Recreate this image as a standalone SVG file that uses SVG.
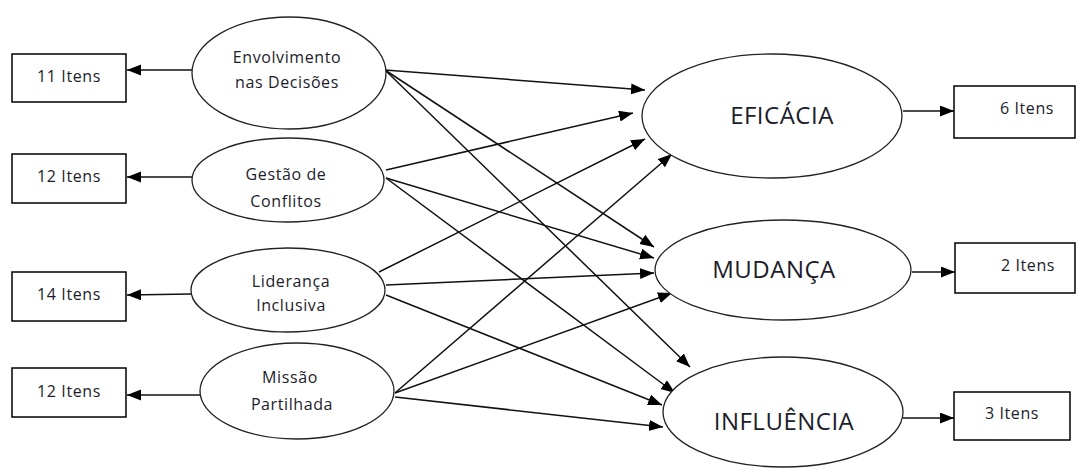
<svg xmlns="http://www.w3.org/2000/svg" width="1083" height="471" viewBox="0 0 1083 471">
  <style>
    .box { fill: #fff; stroke: #000; stroke-width: 1.5; }
    .ell { fill: #fff; stroke: #222; stroke-width: 1.3; }
    .lbl { font-family: "Open Sans", "DejaVu Sans", sans-serif; font-size: 16px; letter-spacing: 0.6px; fill: #1c1c2a; text-anchor: middle; }
    .big { font-family: "Open Sans", "DejaVu Sans", sans-serif; font-size: 24px; letter-spacing: 0.5px; fill: #1c1c2a; text-anchor: middle; }
    .conn { stroke: #111; stroke-width: 1.5; fill: none; marker-end: url(#arrow); }
  </style>
  <defs>
    <marker id="arrow" markerUnits="userSpaceOnUse" markerWidth="15" markerHeight="12" refX="14" refY="5.5" orient="auto">
      <path d="M0,0 L14,5.5 L0,11 Z" fill="#000"/>
    </marker>
  </defs>
  <rect width="1083" height="471" fill="#fff"/>

  <!-- connectors -->
  <g id="connectors">
    <!-- constructs to item boxes (left) -->
    <line class="conn" x1="192" y1="70" x2="127" y2="70"/>
    <line class="conn" x1="192" y1="177" x2="127" y2="177"/>
    <line class="conn" x1="191" y1="294" x2="127" y2="295"/>
    <line class="conn" x1="200" y1="395" x2="127" y2="395"/>
    <!-- Envolvimento nas Decisões -->
    <line class="conn" x1="385" y1="70" x2="645" y2="90"/>
    <line class="conn" x1="385" y1="70" x2="654" y2="247"/>
    <line class="conn" x1="385" y1="70" x2="690" y2="367"/>
    <!-- Gestão de Conflitos -->
    <line class="conn" x1="386" y1="170" x2="633" y2="113"/>
    <line class="conn" x1="386" y1="178" x2="654" y2="258"/>
    <line class="conn" x1="386" y1="178" x2="675" y2="393"/>
    <!-- Liderança Inclusiva -->
    <line class="conn" x1="379" y1="272" x2="645" y2="139"/>
    <line class="conn" x1="386" y1="285" x2="654" y2="273"/>
    <line class="conn" x1="386" y1="295" x2="662" y2="405"/>
    <!-- Missão Partilhada -->
    <line class="conn" x1="395" y1="393" x2="672" y2="154"/>
    <line class="conn" x1="395" y1="393" x2="672" y2="293"/>
    <line class="conn" x1="395" y1="397" x2="663" y2="427"/>
    <!-- outcomes to item boxes (right) -->
    <line class="conn" x1="903" y1="111" x2="954" y2="111"/>
    <line class="conn" x1="912" y1="272" x2="955" y2="272"/>
    <line class="conn" x1="903" y1="418" x2="954" y2="418"/>
  </g>

  <!-- item boxes, left -->
  <g id="box-envolvimento">
    <rect class="box" x="12" y="54" width="114" height="48"/>
    <text class="lbl" x="69" y="82">11 Itens</text>
  </g>
  <g id="box-gestao">
    <rect class="box" x="12" y="154" width="114" height="49"/>
    <text class="lbl" x="69" y="182">12 Itens</text>
  </g>
  <g id="box-lideranca">
    <rect class="box" x="12" y="272" width="114" height="49"/>
    <text class="lbl" x="69" y="300">14 Itens</text>
  </g>
  <g id="box-missao">
    <rect class="box" x="12" y="368" width="114" height="49"/>
    <text class="lbl" x="69" y="397">12 Itens</text>
  </g>

  <!-- constructs, left -->
  <g id="envolvimento">
    <ellipse class="ell" cx="289" cy="73" rx="97" ry="56"/>
    <text class="lbl" x="287" y="63">Envolvimento</text>
    <text class="lbl" x="287" y="88">nas Decisões</text>
  </g>
  <g id="gestao">
    <ellipse class="ell" cx="288" cy="180" rx="96" ry="42"/>
    <text class="lbl" x="286" y="180">Gestão de</text>
    <text class="lbl" x="286" y="207">Conflitos</text>
  </g>
  <g id="lideranca">
    <ellipse class="ell" cx="288" cy="290" rx="97" ry="42"/>
    <text class="lbl" x="291" y="287">Liderança</text>
    <text class="lbl" x="291" y="311">Inclusiva</text>
  </g>
  <g id="missao">
    <ellipse class="ell" cx="297" cy="391" rx="97" ry="48"/>
    <text class="lbl" x="290" y="383">Missão</text>
    <text class="lbl" x="292" y="410">Partilhada</text>
  </g>

  <!-- outcomes, right -->
  <g id="eficacia">
    <ellipse class="ell" cx="772" cy="116" rx="130" ry="62"/>
    <text class="big" x="782" y="124">EFICÁCIA</text>
  </g>
  <g id="mudanca">
    <ellipse class="ell" cx="783" cy="270" rx="128" ry="50"/>
    <text class="big" x="774" y="278">MUDANÇA</text>
  </g>
  <g id="influencia">
    <ellipse class="ell" cx="783" cy="412" rx="120" ry="55"/>
    <text class="big" x="784" y="430">INFLUÊNCIA</text>
  </g>

  <!-- item boxes, right -->
  <g id="box-eficacia">
    <rect class="box" x="954" y="86" width="121" height="52"/>
    <text class="lbl" x="1027" y="114">6 Itens</text>
  </g>
  <g id="box-mudanca">
    <rect class="box" x="955" y="243" width="120" height="50"/>
    <text class="lbl" x="1028" y="271">2 Itens</text>
  </g>
  <g id="box-influencia">
    <rect class="box" x="954" y="392" width="116" height="48"/>
    <text class="lbl" x="1012" y="419">3 Itens</text>
  </g>
</svg>
